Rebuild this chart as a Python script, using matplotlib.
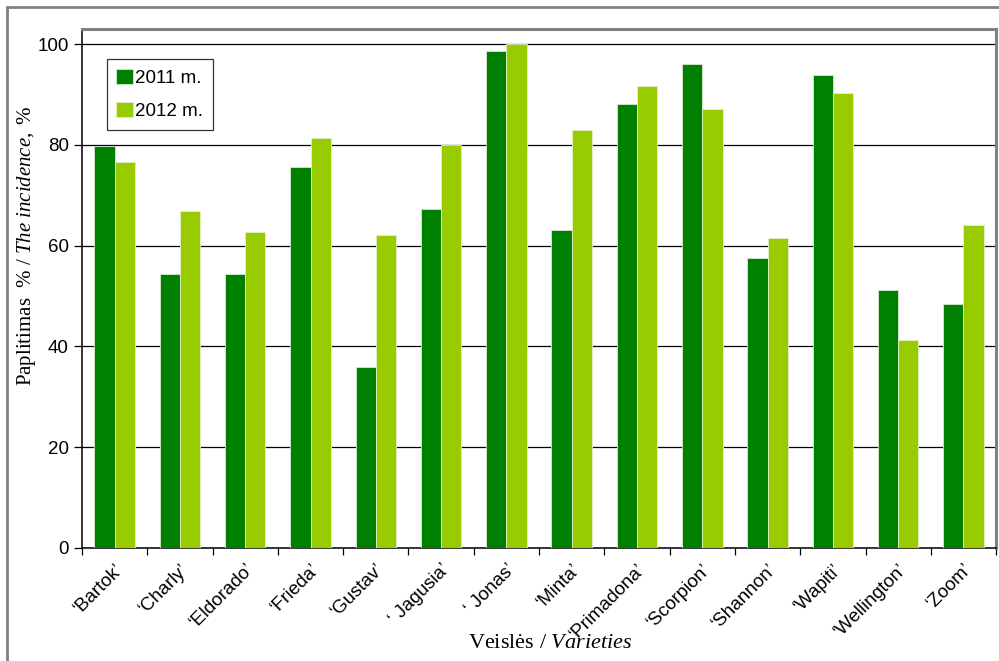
import matplotlib.pyplot as plt
import numpy as np
from matplotlib.patches import Rectangle
from matplotlib.ticker import FixedLocator

plt.rcParams['font.family'] = ['Liberation Sans', 'DejaVu Sans']
plt.rcParams['mathtext.fontset'] = 'custom'
plt.rcParams['mathtext.rm'] = 'Liberation Serif'
plt.rcParams['mathtext.it'] = 'Liberation Serif:italic'

varieties = ['‘Bartok’', '‘Charly’', '‘Eldorado’', '‘Frieda’', '‘Gustav’',
             '‘ Jagusia’', '‘ Jonas’', '‘Minta’', '‘Primadona’', '‘Scorpion’',
             '‘Shannon’', '‘Wapiti’', '‘Wellington’', '‘Zoom’']
incidence_2011 = [79.8, 54.3, 54.3, 75.7, 36.0, 67.3, 98.7,
                  63.2, 88.2, 96.0, 57.5, 93.9, 51.2, 48.5]
incidence_2012 = [76.7, 66.8, 62.7, 81.4, 62.1, 79.9, 100.0,
                  83.0, 91.8, 87.1, 61.6, 90.3, 41.2, 64.2]
years = ['2011 m.', '2012 m.']

fig = plt.figure(figsize=(9.99, 6.61), dpi=100)
ax = fig.add_axes([0.0821, 0.171, 0.915, 0.785])

x = np.arange(len(varieties))
w = 0.31
ax.bar(x - w / 2, incidence_2011, w, color='#008000', edgecolor='#d8e8d0',
       linewidth=0.6, label=years[0], zorder=3)
ax.bar(x + w / 2, incidence_2012, w, color='#99cc00', edgecolor='#e4efc8',
       linewidth=0.6, label=years[1], zorder=3)

ax.set_xlim(-0.5, len(varieties) - 0.5)
ax.set_ylim(0, 103)
ax.set_yticks(range(0, 101, 20))
ax.yaxis.grid(True, color='black', linewidth=0.9, zorder=0)
ax.tick_params(axis='y', labelsize=13.5, length=6, width=0.9, direction='out')

ax.set_xticks(x)
ax.set_xticklabels(varieties, rotation=45, ha='right', rotation_mode='anchor',
                   fontsize=13.5)
ax.tick_params(axis='x', which='major', length=0, pad=9)
ax.xaxis.set_minor_locator(FixedLocator(np.arange(-0.5, len(varieties), 1)))
ax.tick_params(axis='x', which='minor', length=5, width=0.9, direction='out')

for side in ('left', 'bottom'):
    ax.spines[side].set_color('black')
    ax.spines[side].set_linewidth(1.1)
for side in ('top', 'right'):
    ax.spines[side].set_color('#808080')
    ax.spines[side].set_linewidth(2.2)

ax.set_ylabel(r'Paplitimas  % / $\it{The\ incidence,\ \%}$',
              family='Liberation Serif', fontsize=15)
ax.yaxis.set_label_coords(-0.048, 0.582)
ax.set_xlabel(r'Veislės / $\it{Varieties}$', family='Liberation Serif',
              fontsize=16)
ax.xaxis.set_label_coords(0.512, -0.165)

leg = ax.legend(loc='upper left', bbox_to_anchor=(0.0274, 0.942), fontsize=13.5,
                frameon=True, fancybox=False, edgecolor='black',
                handlelength=0.9, handleheight=0.85, handletextpad=0.1,
                labelspacing=0.85, borderpad=0.5, borderaxespad=0)
leg.get_frame().set_linewidth(0.9)

# gray frame around the whole chart
fig.patches.append(Rectangle((7 / 999, -0.1), 1.2, (661 - 7) / 661 + 0.1,
                             transform=fig.transFigure, fill=False,
                             edgecolor='#808080', linewidth=2, clip_on=False))

fig.savefig('out.png', dpi=100)
